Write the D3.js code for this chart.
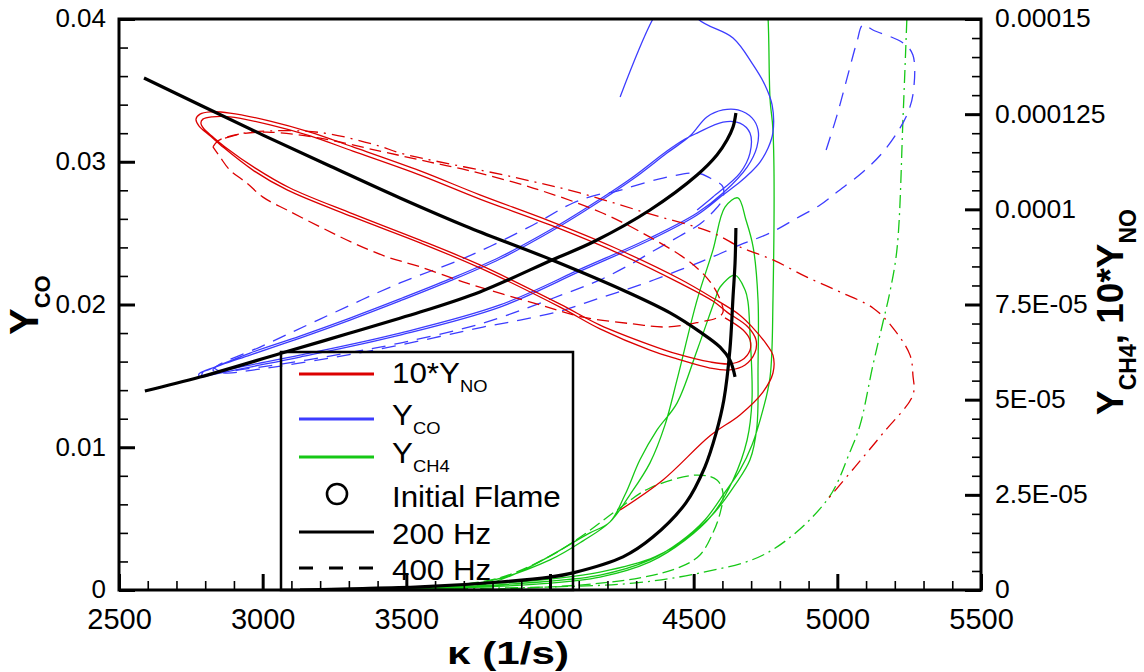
<!DOCTYPE html>
<html><head><meta charset="utf-8">
<script src="https://cdn.jsdelivr.net/npm/d3@7"></script>
<style>body{margin:0;background:#fff} svg text{font-family:Arial,"Liberation Sans",sans-serif;fill:#000}</style>
</head><body><svg id="c" width="1144" height="672"></svg>
<script>
// ---------- tick values / labels ----------
const kappaTicks = [2500, 3000, 3500, 4000, 4500, 5000, 5500];
const yCOTicks = [0, 0.01, 0.02, 0.03, 0.04];
const yCOTickLabels = ["0", "0.01", "0.02", "0.03", "0.04"];
const yRightTicks = [0, 2.5e-5, 5e-5, 7.5e-5, 1e-4, 1.25e-4, 1.5e-4];
const yRightTickLabels = ["0", "2.5E-05", "5E-05", "7.5E-05", "0.0001", "0.000125", "0.00015"];

// ---------- data: [kappa (1/s), value] ----------
// right axis series are given in units of 1e-5, left axis series in units of 1e-3
const flameNO_e5 = [[2587,13.45],[2782,12.74],[3001,11.95],[3234,11.14],[3478,10.30],[3722,9.51],[4007,8.67],[4268,7.83],[4418,7.28],[4522,6.78],[4592,6.38],[4626,6.04],[4644,5.60]];
const flameCO_e3 = [[2590,13.94],[2782,14.92],[3067,16.60],[3304,18.00],[3548,19.47],[3756,20.88],[4007,23.12],[4157,24.45],[4348,26.62],[4512,29.07],[4581,30.47],[4616,31.52],[4637,32.43],[4647,33.42]];
const flameCH4_e5 = [[3130,0],[3304,0.03],[3548,0.08],[3826,0.21],[4000,0.34],[4080,0.45],[4254,0.87],[4358,1.39],[4473,2.29],[4539,3.23],[4578,4.12],[4605,4.99],[4626,6.30],[4637,7.70],[4644,8.59],[4647,9.51]];

const no200_e5 = [[4244,2.10],[4393,2.89],[4557,4.05],[4661,4.60],[4741,5.20],[4776,5.70],[4776,6.17],[4755,6.44],[4707,6.88],[4661,7.22],
 [4567,7.67],[4452,8.17],[4219,9.01],[4000,9.69],[3756,10.38],[3548,11.01],[3314,11.64],[3165,12.03],[3026,12.32],[2886,12.53],[2817,12.56],[2782,12.50],[2768,12.37],[2778,12.19],[2817,11.93],[2858,11.66],[2966,11.03],[3085,10.51],[3314,9.80],[3548,9.12],[3756,8.46],[4035,7.43],[4174,6.86],[4348,6.30],[4442,6.07],[4557,5.83],[4626,5.78],[4679,5.91],[4713,6.23],[4717,6.57],[4689,6.91],[4616,7.30],
 [4567,7.59],[4452,8.06],[4219,8.91],[4000,9.59],[3756,10.27],[3548,10.90],[3314,11.53],[3165,11.93],[3026,12.22],[2886,12.43],[2824,12.43],[2792,12.37],[2785,12.27],[2796,12.11],[2827,11.90],[2869,11.64],[2973,11.09],[3095,10.56],[3314,9.88],[3548,9.19],[3756,8.54],[4035,7.51],[4174,6.96],[4348,6.44],[4442,6.20],[4557,5.99],[4626,5.94],[4668,6.04],[4696,6.30],[4696,6.57],[4672,6.83],[4609,7.15]];
const no400_e5 = [[2827,11.64],[2845,11.80],[2876,11.90],[2921,11.98],[3015,12.03],[3200,11.87],[3408,11.53],[3582,11.24],[3711,11.03],[3941,10.56],[4174,9.93],[4348,9.27],[4477,8.67],[4546,8.20],[4585,7.75],[4602,7.30],[4581,7.15],[4522,7.04],[4407,6.91],[4289,6.99],[4115,7.17],[3965,7.49],[3711,8.06],[3548,8.49],[3433,8.75],[3314,9.12],[3200,9.54],[3085,9.98],[3001,10.32],[2945,10.69],[2886,11.03],[2852,11.37],[2827,11.64]];
const noDashDot_e5 = [[2869,11.87],[2939,12.01],[3026,12.06],[3130,12.06],[3234,11.98],[3408,11.66],[3478,11.48],[3871,10.85],[4104,10.43],[4338,9.90],[4567,9.38],[4661,9.01],[4776,8.67],[4894,8.22],[5009,7.83],[5124,7.41],[5194,6.88],[5253,6.17],[5263,5.65],[5263,5.12],[5159,4.12],[5061,3.23],[4964,2.36]];

const co200_e3 = [[4244,34.54],[4358,40.00],[4435,42.38],[4515,40.00],[4637,38.67],[4707,36.78],[4748,35.38],[4773,33.98],[4776,32.08],[4759,30.96],[4731,29.98],[4696,29.21],[4661,28.58],[4602,27.67],[4512,26.27],
 [4348,24.52],[4115,22.42],[3826,19.82],[3478,17.86],[3130,16.32],[2956,15.62],[2817,15.06],[2782,14.92],[2778,15.13],[2817,15.48],[2956,16.46],[3130,17.65],[3304,18.91],[3478,20.25],[3652,21.65],[3826,23.19],[4000,25.08],[4115,26.48],[4289,28.79],[4407,30.61],[4487,31.80],[4546,33.14],[4602,33.63],[4654,33.63],[4703,33.07],[4724,32.23],[4720,31.03],[4686,29.63],[4602,27.81],[4512,26.41],
 [4348,24.66],[4115,22.56],[3826,19.97],[3478,18.00],[3130,16.46],[2956,15.76],[2827,15.20],[2789,14.99],[2792,15.27],[2834,15.62],[2956,16.60],[3130,17.79],[3304,19.05],[3478,20.39],[3652,21.79],[3826,23.33],[4000,25.22],[4115,26.62],[4289,28.93],[4407,30.75],[4470,31.59],[4512,32.01],[4602,32.78],[4661,32.71],[4696,32.01],[4696,30.61],[4661,29.21],[4567,27.53],[4512,26.62]];
const co400_e3 = [[4961,30.82],[4999,33.27],[5034,35.87],[5068,38.39],[5089,39.58],[5124,39.23],[5229,38.32],[5263,37.48],[5263,34.68],[5242,33.27],[5218,32.36],[5159,30.68],[5089,29.28],[4999,27.88],[4940,26.97],[4860,26.06],[4766,25.01],[4661,24.17],[4557,23.26],[4452,22.42],[4313,21.37],[4174,20.46],[4035,19.54],[3896,18.91],[3767,18.42],
 [3478,17.16],[3234,16.25],[2991,15.48],[2869,15.20],[2827,15.41],[2852,15.83],[2991,17.02],[3200,18.98],[3478,21.51],[3711,23.33],[3941,25.57],[4080,27.11],[4174,27.74],[4219,27.88],[4393,28.86],[4512,29.21],[4557,28.86],[4602,28.23],[4599,27.32],[4567,26.48],[4522,25.64],[4452,24.80],[4348,23.61],[4289,22.91],[4174,21.72],[4059,20.81],[3767,18.70],[3478,17.30],[3234,16.39],[2991,15.62],[2852,15.34],[2831,15.55]];

const ch4200_e5 = [[4748,16.02],[4759,15.00],[4766,12.87],[4776,12.08],[4776,7.62],[4766,5.60],[4741,4.73],[4703,3.81],[4661,3.15],[4609,2.57],[4539,1.84],[4452,1.26],[4348,0.79],[4174,0.39],[3965,0.21],[3652,0.08],[3408,0.03],[3234,0],
 [3478,0.03],[3791,0.24],[4000,0.79],[4115,1.29],[4209,1.79],[4278,2.50],[4348,3.34],[4400,4.33],[4442,5.52],[4512,7.62],[4567,8.93],[4609,10.06],[4654,10.30],[4682,9.72],[4707,9.01],[4724,7.62],[4724,5.86],[4720,4.28],[4696,3.42],[4644,2.76],[4574,2.05],[4487,1.44],[4365,0.87],[4174,0.47],[3965,0.26],[3652,0.11],[3408,0.03],
 [3791,0.18],[4139,1.50],[4209,1.79],[4261,2.50],[4313,3.42],[4372,4.20],[4442,4.91],[4512,6.30],[4574,7.62],[4592,7.96],[4644,8.27],[4679,7.88],[4689,7.57],[4696,6.75],[4703,4.99],[4686,3.94],[4637,2.89],[4564,1.97],[4470,1.31],[4348,0.74],[4174,0.34],[3965,0.16],[3652,0.05],[3234,0]];
const ch4400_e5 = [[3652,0.11],[3826,0.32],[4000,0.89],[4115,1.44],[4233,2.10],[4348,2.68],[4512,3.02],[4581,2.89],[4602,2.55],[4592,2.02],[4567,1.50],[4522,0.92],[4452,0.60],[4313,0.32],[4104,0.13],[3826,0.03]];
const ch4DashDot_e5 = [[3234,0],[4000,0.08],[4289,0.18],[4522,0.45],[4755,0.97],[4964,2.36],[5044,3.63],[5079,4.33],[5124,5.91],[5159,7.04],[5183,7.83],[5208,8.98],[5229,12.48],[5242,15.00],[5246,15.76]];

// ---------- legend ----------
const legendItems = [
  {label:"10*Y", sub:"NO", type:"line", color:"#dc0000"},
  {label:"Y", sub:"CO", type:"line", color:"#3c3cff"},
  {label:"Y", sub:"CH4", type:"line", color:"#16c816"},
  {label:"Initial Flame", type:"circle"},
  {label:"200 Hz", type:"line", color:"#000"},
  {label:"400 Hz", type:"dash", color:"#000"}
];

// ---------- layout ----------
const M = {left:119, right:981, top:19, bottom:590};
const RED = "#dc0000", BLUE = "#3c3cff", GREEN = "#16c816";
const svg = d3.select("#c");
const x = d3.scaleLinear().domain([2500, 5500]).range([M.left, M.right]);
const yL = d3.scaleLinear().domain([0, 0.04]).range([M.bottom, M.top]);
const yR = d3.scaleLinear().domain([0, 0.00015]).range([M.bottom, M.top]);

svg.append("defs").append("clipPath").attr("id","clip").append("rect")
  .attr("x", M.left).attr("y", M.top).attr("width", M.right - M.left).attr("height", M.bottom - M.top);

const plot = svg.append("g").attr("clip-path","url(#clip)");
const curve = d3.curveCatmullRom.alpha(0.5);
const lineR = d3.line().x(d => x(d[0])).y(d => yR(d[1] * 1e-5)).curve(curve);
const lineL = d3.line().x(d => x(d[0])).y(d => yL(d[1] * 1e-3)).curve(curve);

const series = [
  {d: ch4DashDot_e5, g: lineR, c: GREEN, dash: "13,5,2,5", w: 1.3},
  {d: ch4400_e5, g: lineR, c: GREEN, dash: "12,5", w: 1.3},
  {d: ch4200_e5, g: lineR, c: GREEN, dash: null, w: 1.3},
  {d: co400_e3, g: lineL, c: BLUE, dash: "14,9", w: 1.3},
  {d: co200_e3, g: lineL, c: BLUE, dash: null, w: 1.3},
  {d: noDashDot_e5, g: lineR, c: RED, dash: "13,6,2,6", w: 1.3},
  {d: no400_e5, g: lineR, c: RED, dash: "12,6", w: 1.3},
  {d: no200_e5, g: lineR, c: RED, dash: null, w: 1.3},
  {d: flameNO_e5, g: lineR, c: "#000", dash: null, w: 3.2},
  {d: flameCO_e3, g: lineL, c: "#000", dash: null, w: 3.2},
  {d: flameCH4_e5, g: lineR, c: "#000", dash: null, w: 3.2}
];
series.forEach(s => {
  plot.append("path").attr("d", s.g(s.d)).attr("fill","none")
    .attr("stroke", s.c).attr("stroke-width", s.w)
    .attr("stroke-dasharray", s.dash).attr("stroke-linejoin","round");
});

// ---------- axes ----------
function styleAxis(g, fs) {
  g.attr("font-family", "Arial, 'Liberation Sans', sans-serif").attr("font-size", fs);
  g.select(".domain").remove();
  g.selectAll(".tick line").attr("stroke", "#000");
  g.selectAll(".tick text").attr("fill", "#000");
}
// bottom
const gxMinor = svg.append("g").attr("transform", `translate(0,${M.bottom})`)
  .call(d3.axisBottom(x).tickValues(x.ticks(30)).tickSize(-9).tickFormat(""));
styleAxis(gxMinor, 10); gxMinor.selectAll(".tick line").attr("stroke-width", 1.6);
const gx = svg.append("g").attr("transform", `translate(0,${M.bottom})`)
  .call(d3.axisBottom(x).tickValues(kappaTicks).tickSize(-16).tickPadding(20).tickFormat(d3.format("d")));
styleAxis(gx, 29); gx.selectAll(".tick line").attr("stroke-width", 3);
gx.selectAll(".tick text").attr("dy", "0.66em");
// left
const gyMinor = svg.append("g").attr("transform", `translate(${M.left},0)`)
  .call(d3.axisLeft(yL).tickValues(yL.ticks(20)).tickSize(-9).tickFormat(""));
styleAxis(gyMinor, 10); gyMinor.selectAll(".tick line").attr("stroke-width", 1.6);
const gy = svg.append("g").attr("transform", `translate(${M.left},0)`)
  .call(d3.axisLeft(yL).tickValues(yCOTicks).tickSize(-16).tickPadding(13).tickFormat((d,i) => yCOTickLabels[i]));
styleAxis(gy, 26); gy.selectAll(".tick line").attr("stroke-width", 3);
gy.selectAll(".tick text").attr("dy", "0.3em");
// right
const gyrMinor = svg.append("g").attr("transform", `translate(${M.right},0)`)
  .call(d3.axisRight(yR).tickValues(yR.ticks(30)).tickSize(-9).tickFormat(""));
styleAxis(gyrMinor, 10); gyrMinor.selectAll(".tick line").attr("stroke-width", 1.6);
const gyr = svg.append("g").attr("transform", `translate(${M.right},0)`)
  .call(d3.axisRight(yR).tickValues(yRightTicks).tickSize(-16).tickPadding(14).tickFormat((d,i) => yRightTickLabels[i]));
styleAxis(gyr, 26.5); gyr.selectAll(".tick line").attr("stroke-width", 3);
gyr.selectAll(".tick text").attr("dy", "0.3em");

// frame
svg.append("rect").attr("x", M.left).attr("y", M.top).attr("width", M.right - M.left).attr("height", M.bottom - M.top)
  .attr("fill","none").attr("stroke","#000").attr("stroke-width",3);

// ---------- axis titles ----------
const tl = svg.append("text").attr("transform","translate(38,335) rotate(-90)").attr("font-weight","bold");
tl.append("tspan").attr("font-size", 40).text("Y");
tl.append("tspan").attr("font-size", 22).attr("dy", 12).text("CO");

const tr = svg.append("text").attr("transform","translate(1123,415) rotate(-90)").attr("font-weight","bold");
tr.append("tspan").attr("font-size", 37).text("Y");
tr.append("tspan").attr("font-size", 23).attr("dy", 13).text("CH4");
tr.append("tspan").attr("font-size", 37).attr("dy", -13).text(", 10*Y");
tr.append("tspan").attr("font-size", 23).attr("dy", 13).text("NO");

svg.append("text").attr("transform", "translate(508,664) scale(1.36,1)").attr("text-anchor","middle")
  .attr("font-weight","bold").attr("font-size", 31).text("κ (1/s)");

// ---------- legend ----------
const lg = svg.append("g");
lg.append("rect").attr("x",281).attr("y",352).attr("width",292).attr("height",238)
  .attr("fill","none").attr("stroke","#000").attr("stroke-width",2.5);
const rowY = [374, 419, 457, 494, 532, 568];
const textY = [383, 425, 463, 507, 544, 580];
legendItems.forEach((it, i) => {
  if (it.type === "circle") {
    lg.append("circle").attr("cx",337).attr("cy",rowY[i]).attr("r",10)
      .attr("fill","none").attr("stroke","#000").attr("stroke-width",2.6);
  } else {
    lg.append("line").attr("x1",299).attr("x2",374).attr("y1",rowY[i]).attr("y2",rowY[i])
      .attr("stroke", it.color).attr("stroke-width", 3)
      .attr("stroke-dasharray", it.type === "dash" ? "14,16" : null);
  }
  const t = lg.append("text").attr("transform", `translate(392,${textY[i]}) scale(1.08,1)`).attr("font-size",29);
  t.append("tspan").text(it.label);
  if (it.sub) t.append("tspan").attr("font-size",17).attr("dy",9).text(it.sub);
});
</script></body></html>
